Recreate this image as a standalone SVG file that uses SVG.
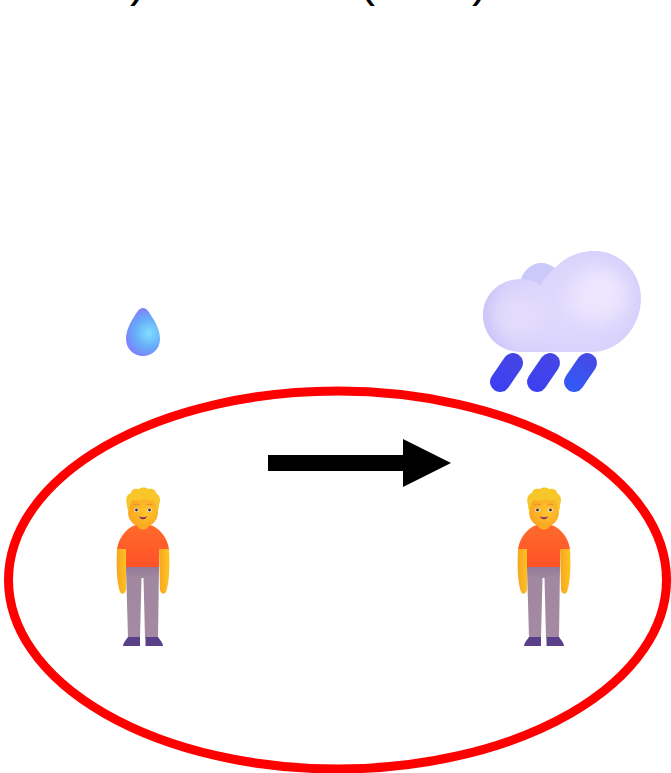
<svg xmlns="http://www.w3.org/2000/svg" width="671" height="773" viewBox="0 0 671 773">
<style>
.paren{font-family:"Liberation Sans",Arial,sans-serif;font-size:48px;fill:#000}
.pill{fill:none;stroke-width:20;stroke-linecap:round}
</style>
<defs>
<filter id="soft" x="-5%" y="-5%" width="110%" height="110%"><feGaussianBlur stdDeviation="0.5"/></filter>
<filter id="glow" x="-30%" y="-30%" width="160%" height="160%"><feGaussianBlur stdDeviation="9"/></filter>
<clipPath id="cloudClip"><path d="M522 352 C498 352 483 335 483 315 C483 295 499 279 521 279 C524 270 532 263 541 263 C547 263 551 265 555 268 C565 257 579 251 594 251 C620 251 641 272 641 298 C641 328 618 352 592 352Z"/></clipPath>
<radialGradient id="cloudFill" gradientUnits="userSpaceOnUse" cx="575" cy="305" r="105">
<stop offset="0" stop-color="#e3dcfe"/><stop offset="0.7" stop-color="#d5cefb"/><stop offset="1" stop-color="#c0baf6"/>
</radialGradient>
<linearGradient id="pillA" gradientUnits="userSpaceOnUse" x1="520" y1="355" x2="495" y2="392"><stop offset="0" stop-color="#4646e4"/><stop offset="1" stop-color="#3c3ff2"/></linearGradient>
<linearGradient id="pillC" gradientUnits="userSpaceOnUse" x1="557" y1="355" x2="532" y2="392"><stop offset="0" stop-color="#4646e4"/><stop offset="1" stop-color="#3c3ff2"/></linearGradient>
<linearGradient id="pillB" gradientUnits="userSpaceOnUse" x1="595" y1="355" x2="568" y2="392"><stop offset="0" stop-color="#4848e2"/><stop offset="1" stop-color="#2f5cf8"/></linearGradient>
<radialGradient id="dropFill" gradientUnits="userSpaceOnUse" cx="149" cy="333" r="25">
<stop offset="0" stop-color="#80deff"/><stop offset="0.6" stop-color="#66aaf8"/><stop offset="1" stop-color="#8080fa"/>
</radialGradient>
<linearGradient id="shirt" x1="0" y1="0" x2="0" y2="1"><stop offset="0" stop-color="#ff6a2c"/><stop offset="1" stop-color="#ff5228"/></linearGradient>
<linearGradient id="skin" x1="0" y1="0" x2="1" y2="0"><stop offset="0" stop-color="#f5a623"/><stop offset="1" stop-color="#ffc41f"/></linearGradient>
<radialGradient id="face" cx="0.6" cy="0.45" r="0.65"><stop offset="0" stop-color="#ffc62e"/><stop offset="1" stop-color="#f8a21f"/></radialGradient>
<linearGradient id="trousers" x1="0" y1="0" x2="0" y2="1"><stop offset="0" stop-color="#94799a"/><stop offset="0.15" stop-color="#a088a0"/><stop offset="1" stop-color="#a48aa2"/></linearGradient>
<g id="person" filter="url(#soft)">
<path d="M117 549 C116 570 117 583 120 592 C122 595 125 594 126 590 L127 549Z" fill="url(#skin)"/>
<path d="M169 549 C170 570 169 583 166 592 C164 595 161 594 160 590 L159 549Z" fill="url(#skin)"/>
<path d="M126 567 H159 L158 638 H145 L143.500 578 H141.500 L140 638 H128Z" fill="url(#trousers)"/>
<path d="M128 637 H140 V646 H123 C123 643 126 640 128 637Z" fill="#5a3f88"/>
<path d="M145.500 637 H158 C160 640 163 643 163 646 H145.500Z" fill="#5a3f88"/>
<path d="M117 549 C119 536 128 527 136 525 H150 C158 527 167 536 169 549 L159 549 V567 H126 V549Z" fill="url(#shirt)"/>
<path d="M137 525 H149 C148 531 138 531 137 525Z" fill="#fbae25"/>
<path d="M128 498 H158 V512 C158 521 151 527 143 527 C135 527 128 521 128 512Z" fill="url(#face)"/>
<path d="M127 505 C125 499 127 494 131 493 C131 489 136 488 139 489 C141 487 146 487 148 489 C152 488 156 490 156 493 C160 495 161 500 159 505 C159 509 158 511 157 513 C157 507 156 503 153 500 C150 501 147 500 145 499 C141 501 137 501 133 500 C130 503 129 507 129 513 C128 511 127 508 127 505Z" fill="#f7c72c"/>
<circle cx="136.500" cy="510" r="2.200" fill="#f6e9dc"/><circle cx="136.500" cy="510" r="1.400" fill="#3d2b2b"/>
<circle cx="149.500" cy="510" r="2.200" fill="#f6e9dc"/><circle cx="149.500" cy="510" r="1.400" fill="#3d2b2b"/>
<path d="M133.500 505 Q136.500 503 139.500 505 M146.500 505 Q149.500 503 152.500 505" fill="none" stroke="#e08a3c" stroke-width="1"/>
<path d="M138.500 516.500 Q143 518 147.500 516.500 Q143 522 138.500 516.500Z" fill="#8c2a6b"/>
</g>
</defs>
<g id="title-fragments">
<text class="paren" x="130" y="-4">)</text>
<text class="paren" x="359" y="-4">(</text>
<text class="paren" x="472" y="-4">)</text>
</g>
<g id="cloud">
<path d="M522 352 C498 352 483 335 483 315 C483 295 499 279 521 279 C524 270 532 263 541 263 C547 263 551 265 555 268 C565 257 579 251 594 251 C620 251 641 272 641 298 C641 328 618 352 592 352Z" fill="url(#cloudFill)" filter="url(#soft)"/>
<g clip-path="url(#cloudClip)">
<ellipse cx="520" cy="316" rx="27" ry="24" fill="#e3dcfd" filter="url(#glow)"/>
<ellipse cx="600" cy="295" rx="28" ry="28" fill="#ece6ff" filter="url(#glow)"/>
<path d="M521 279 C524 270 532 263 541 263 C547 263 551 265 555 268 C549 273 543 279 541 285 C536 282 529 279 521 279Z" fill="#cbc9f9" filter="url(#soft)"/>
</g>
<line class="pill" x1="500" y1="382" x2="513" y2="363" stroke="url(#pillA)"/>
<line class="pill" x1="537" y1="382" x2="550" y2="363" stroke="url(#pillC)"/>
<line class="pill" x1="574" y1="382" x2="587" y2="363" stroke="url(#pillB)"/>
</g>
<g id="drop">
<path d="M143 308 C147 308 149 312 152 317 C156 323 160 331 160 339 C160 349 152 356 143 356 C134 356 126 349 126 339 C126 331 130 323 134 317 C137 312 139 308 143 308Z" fill="url(#dropFill)" filter="url(#soft)"/>
</g>
<g id="boundary">
<ellipse cx="337.500" cy="580" rx="329" ry="189" fill="none" stroke="#ff0000" stroke-width="9"/>
</g>
<g id="person-left"><use href="#person"/></g>
<g id="person-right"><use href="#person" x="401"/></g>
<g id="connectors">
<polygon points="268,455 403,455 403,439 451,463 403,487 403,471 268,471" fill="#000"/>
</g>
</svg>
